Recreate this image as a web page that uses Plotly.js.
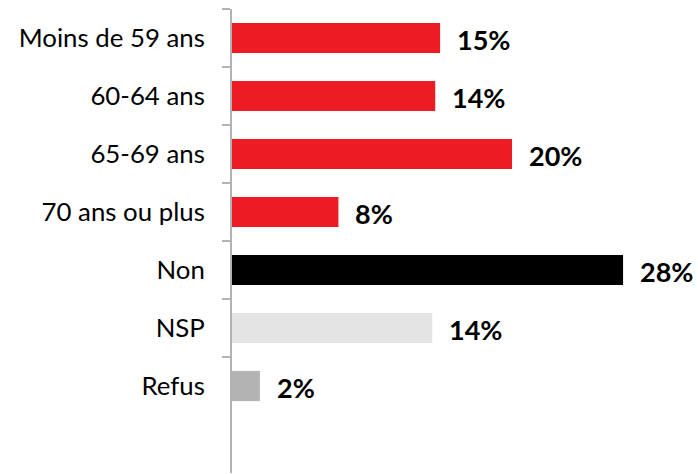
<!DOCTYPE html>
<html>
<head>
<meta charset="utf-8">
<script src="https://cdn.plot.ly/plotly-3.0.1.min.js"></script>
<style>html,body{margin:0;padding:0;background:#fff;}</style>
</head>
<body>
<div id="chart" style="width:698px;height:474px;"></div>
<script>
const categories = ["Moins de 59 ans", "60-64 ans", "65-69 ans", "70 ans ou plus", "Non", "NSP", "Refus"];
const values = [14.9, 14.55, 20.05, 7.62, 28.0, 14.34, 2.0];
const valueLabels = ["15%", "14%", "20%", "8%", "28%", "14%", "2%"];
const barColors = ["#ED1C24", "#ED1C24", "#ED1C24", "#ED1C24", "#000000", "#E4E4E4", "#B3B3B3"];

const trace = {
  type: "bar",
  orientation: "h",
  x: values,
  y: categories,
  marker: {color: barColors},
  width: 0.52,
  hoverinfo: "none"
};

const annotations = categories.map((c, i) => ({
  x: values[i], y: c, xref: "x", yref: "y",
  text: valueLabels[i], showarrow: false,
  xanchor: "left", yanchor: "middle", xshift: 15, yshift: -1,
  font: {family: "Lato, 'Open Sans', sans-serif", size: 27, color: "#000", weight: 700}
}));

const layout = {
  width: 698, height: 474,
  margin: {l: 232, r: 47, t: 9, b: 1, pad: 0},
  paper_bgcolor: "#fff", plot_bgcolor: "#fff",
  showlegend: false,
  xaxis: {range: [0, 30], visible: false, fixedrange: true},
  yaxis: {
    type: "category",
    categoryorder: "array", categoryarray: categories,
    range: [7.5, -0.5], autorange: false,
    tickson: "boundaries", ticks: "outside", ticklen: 8, tickwidth: 2, tickcolor: "#B3B3B3",
    showline: true, linecolor: "#B3B3B3", linewidth: 2,
    showgrid: false, zeroline: false,
    ticklabelstandoff: 20,
    tickfont: {family: "Lato, 'Open Sans', sans-serif", size: 25.8, color: "#000"}
  },
  annotations: annotations
};

Plotly.newPlot("chart", [trace], layout, {displayModeBar: false, staticPlot: true});
</script>
</body>
</html>
